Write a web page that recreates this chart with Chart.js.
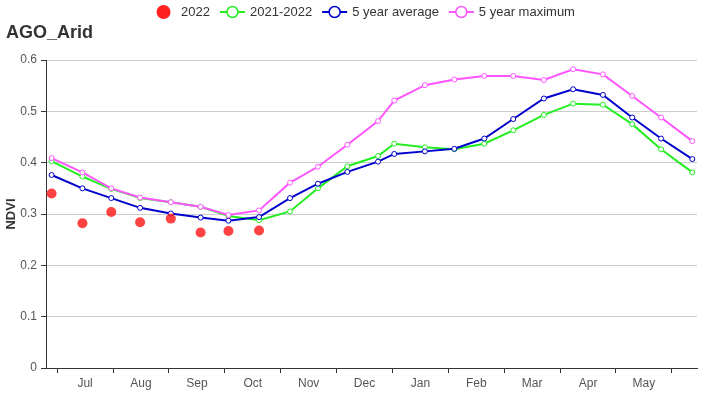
<!DOCTYPE html>
<html>
<head>
<meta charset="utf-8">
<script src="https://cdn.jsdelivr.net/npm/chart.js@4/dist/chart.umd.min.js"></script>
<style>
  body { margin: 0; background: #fff; }
  #box { width: 726px; height: 400px; }
</style>
</head>
<body>
<div id="box"><canvas id="chart-ndvi"></canvas></div>
<script>
// x axis labels (one per month, Jul -> May)
const months = ['Jul', 'Aug', 'Sep', 'Oct', 'Nov', 'Dec', 'Jan', 'Feb', 'Mar', 'Apr', 'May', 'Jun'];

// composite dates of each observation
const dates = ['2021-06-28', '2021-07-15', '2021-07-31', '2021-08-16', '2021-09-02', '2021-09-18',
  '2021-10-03', '2021-10-20', '2021-11-06', '2021-11-21', '2021-12-07', '2021-12-24',
  '2022-01-02', '2022-01-19', '2022-02-04', '2022-02-19', '2022-03-06', '2022-03-23',
  '2022-04-08', '2022-04-24', '2022-05-10', '2022-05-26', '2022-06-12'];

// NDVI values
const ndvi2022 = [0.340, 0.282, 0.304, 0.284, 0.291, 0.264, 0.267, 0.268];
const ndvi2021_2022 = [0.403, 0.373, 0.349, 0.331, 0.323, 0.314, 0.296, 0.288, 0.305, 0.350, 0.393, 0.413,
  0.437, 0.430, 0.426, 0.437, 0.463, 0.493, 0.515, 0.513, 0.475, 0.426, 0.381];
const avg5 = [0.376, 0.350, 0.331, 0.312, 0.301, 0.293, 0.287, 0.294, 0.331, 0.359, 0.382, 0.402,
  0.417, 0.422, 0.427, 0.447, 0.485, 0.525, 0.543, 0.532, 0.488, 0.447, 0.407];
const max5 = [0.409, 0.381, 0.350, 0.332, 0.323, 0.314, 0.298, 0.307, 0.361, 0.392, 0.435, 0.481,
  0.521, 0.551, 0.562, 0.569, 0.569, 0.561, 0.582, 0.572, 0.530, 0.488, 0.442];

const title = 'AGO_Arid';
const green = '#22ee22', blue = '#0000cc', pink = '#ff55ff', red = 'rgba(255,20,20,0.8)';

// date -> months since 1 July 2021 (each month same width on the axis)
function monthPos(d) {
  const [y, m, day] = d.split('-').map(Number);
  const dim = new Date(y, m, 0).getDate();
  return (y - 2021) * 12 + (m - 7) + (day - 1) / dim;
}
function points(values) {
  return values.map((v, i) => ({ x: monthPos(dates[i]), y: v }));
}

function lineSet(label, values, color, order) {
  return {
    label: label,
    data: points(values),
    borderColor: color,
    borderWidth: 2,
    pointRadius: 2.5,
    pointBackgroundColor: '#fff',
    pointBorderColor: color,
    pointBorderWidth: 1,
    tension: 0,
    order: order
  };
}

const legendItems = [
  { text: '2022', color: '#ff2020', dot: true },
  { text: '2021-2022', color: green },
  { text: '5 year average', color: blue },
  { text: '5 year maximum', color: pink }
];

// title + legend drawn on top
const headerPlugin = {
  id: 'header',
  afterDraw(chart) {
    const ctx = chart.ctx;
    ctx.save();
    ctx.textBaseline = 'middle';
    ctx.textAlign = 'left';
    ctx.fillStyle = '#333';
    ctx.font = 'bold 18px "Liberation Sans"';
    ctx.fillText(title, 6, 33);

    ctx.font = '13px "Liberation Sans"';
    const widths = legendItems.map(it => 30 + ctx.measureText(it.text).width);
    const total = widths.reduce((a, b) => a + b, 0) + 10 * (legendItems.length - 1);
    let x = chart.width / 2 - total / 2;
    const y = 12;
    legendItems.forEach((it, i) => {
      const cx = x + 12.5;
      if (it.dot) {
        ctx.fillStyle = it.color;
        ctx.beginPath(); ctx.arc(cx, y, 7, 0, Math.PI * 2); ctx.fill();
      } else {
        ctx.strokeStyle = it.color;
        ctx.lineWidth = 2;
        ctx.beginPath(); ctx.moveTo(x, y); ctx.lineTo(x + 25, y); ctx.stroke();
        ctx.fillStyle = '#fff';
        ctx.lineWidth = 1.5;
        ctx.beginPath(); ctx.arc(cx, y, 5.5, 0, Math.PI * 2); ctx.fill(); ctx.stroke();
      }
      ctx.fillStyle = '#333';
      ctx.fillText(it.text, x + 30, y);
      x += widths[i] + 10;
    });
    ctx.restore();
  }
};

Chart.defaults.font.family = '"Liberation Sans", Arial, sans-serif';

new Chart(document.querySelector('#chart-ndvi'), {
  type: 'line',
  data: {
    datasets: [
      {
        label: '2022',
        data: points(ndvi2022),
        showLine: false,
        pointRadius: 5,
        pointBackgroundColor: red,
        pointBorderWidth: 0,
        order: 0
      },
      lineSet('2021-2022', ndvi2021_2022, green, 3),
      lineSet('5 year average', avg5, blue, 2),
      lineSet('5 year maximum', max5, pink, 1)
    ]
  },
  options: {
    responsive: true,
    maintainAspectRatio: false,
    animation: false,
    layout: { padding: { top: 60, right: 29, bottom: 0, left: 0 } },
    plugins: {
      legend: { display: false },
      title: { display: false },
      tooltip: { enabled: false }
    },
    scales: {
      x: {
        type: 'linear',
        min: -0.2,
        max: 11.45,
        afterBuildTicks(scale) {
          const t = [];
          for (let i = 0; i <= 11; i++) {
            t.push({ value: i });
            if (i < 11) t.push({ value: i + 0.5 });
          }
          scale.ticks = t;
        },
        afterFit(scale) { scale.height = 32; },
        ticks: {
          autoSkip: false,
          maxRotation: 0,
          color: '#555',
          font: { size: 12 },
          padding: 3,
          callback: v => Number.isInteger(v) ? '' : months[Math.floor(v)]
        },
        grid: {
          drawOnChartArea: false,
          tickLength: 5,
          tickColor: c => Number.isInteger(c.tick.value) ? '#333' : 'rgba(0,0,0,0)'
        },
        border: { color: '#333', width: 1 }
      },
      y: {
        min: 0,
        max: 0.6,
        afterFit(scale) { scale.width = 46; },
        ticks: { stepSize: 0.1, color: '#555', font: { size: 12 }, padding: 4 },
        grid: { color: '#ccc', tickLength: 5, tickColor: '#333' },
        border: { color: '#333', width: 1 },
        title: {
          display: true,
          text: 'NDVI',
          color: '#333',
          font: { size: 13, weight: 'bold' },
          padding: { top: 4, bottom: 4 }
        }
      }
    }
  },
  plugins: [headerPlugin]
});
</script>
</body>
</html>
